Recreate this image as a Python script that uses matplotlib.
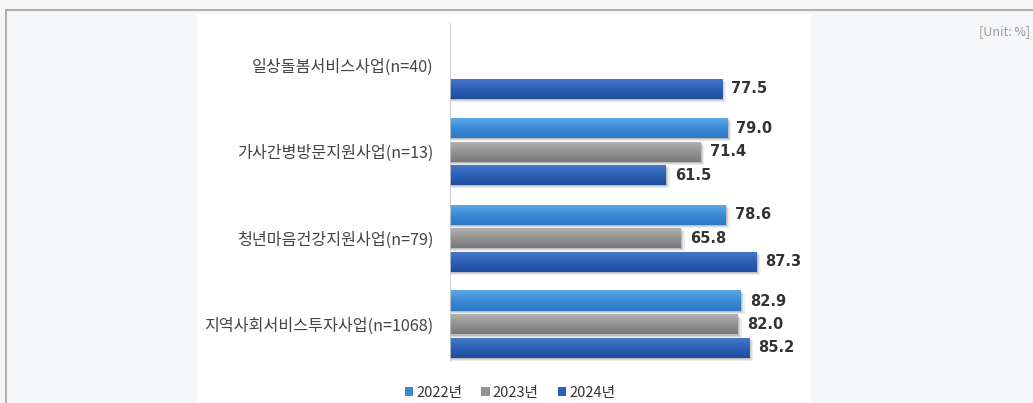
import numpy as np
import matplotlib
matplotlib.use("Agg")
import matplotlib.pyplot as plt
from matplotlib.patches import Rectangle, Patch
from matplotlib.lines import Line2D
from matplotlib.colors import LinearSegmentedColormap

plt.rcParams['font.family'] = ['Noto Sans CJK KR', 'DejaVu Sans']

# ---- data ----
categories = ["일상돌봄서비스사업(n=40)", "가사간병방문지원사업(n=13)",
              "청년마음건강지원사업(n=79)", "지역사회서비스투자사업(n=1068)"]
series_names = ["2022년", "2023년", "2024년"]
v2022 = [np.nan, 79.0, 78.6, 82.9]
v2023 = [np.nan, 71.4, 65.8, 82.0]
v2024 = [77.5, 61.5, 87.3, 85.2]
unit_label = "[Unit: %]"

W, H = 1033, 403
fig = plt.figure(figsize=(W / 100, H / 100), dpi=100, facecolor="#f5f6f8")

def fx(px):
    return px / W

def fy(py):
    return 1 - py / H

# frame lines and white panel
fig.add_artist(Line2D([fx(6), fx(1033)], [fy(10), fy(10)], color="#a8a8a8", lw=1.3))
fig.add_artist(Line2D([fx(6), fx(6)], [fy(10), fy(403)], color="#a8a8a8", lw=1.3))
fig.add_artist(Rectangle((fx(197), 0), fx(811) - fx(197), fy(14), transform=fig.transFigure,
                         facecolor="white", edgecolor="none", zorder=0))

# axes
ax_left, ax_top, ax_bottom = 450, 23, 362
xmax = 100
px_per_unit = 3.51
ax = fig.add_axes([fx(ax_left), fy(ax_bottom), (xmax * px_per_unit) / W, (ax_bottom - ax_top) / H])
ax.set_facecolor("none")
for s in ax.spines.values():
    s.set_visible(False)

spacing_px = 86.5
off = 23.5 / spacing_px
bh = 20 / spacing_px

grad = {
    0: ["#5aa9e6", "#3a8ad6", "#2c78c4"],
    1: ["#b0b0b0", "#939393", "#787878"],
    2: ["#4578c8", "#2c60b6", "#1f4d9c"],
}

all_series = [v2022, v2023, v2024]
ypos = np.arange(len(categories))
for si, vals in enumerate(all_series):
    cmap = LinearSegmentedColormap.from_list(f"g{si}", grad[si])
    for ci, v in enumerate(vals):
        if np.isnan(v):
            continue
        yc = ypos[ci] + (si - 1) * off
        # shadow
        for k, a in [(3, 0.10), (2, 0.15), (1, 0.2)]:
            ax.add_patch(Rectangle((0, yc - bh / 2 + k * 0.012), v + k * 0.35, bh,
                                   facecolor="#555555", alpha=a, edgecolor="none", zorder=1))
        g = np.linspace(0, 1, 50).reshape(-1, 1)
        ax.imshow(g, cmap=cmap, aspect="auto", extent=[0, v, yc + bh / 2, yc - bh / 2],
                  zorder=2, interpolation="bicubic")
        ax.text(v + 2.6, yc, f"{v:.1f}", va="center", ha="left", fontsize=10.5,
                fontweight="bold", color="#333333", family="DejaVu Sans", zorder=3)

ax.set_xlim(0, xmax)
ax.set_ylim(3 + 37.5 / spacing_px, -42 / spacing_px)
ax.axvline(0, color="#c8c8c8", lw=1.2, zorder=4)
ax.set_xticks([])
ax.set_yticks(ypos)
ax.set_yticklabels(categories, fontsize=11.6, color="#444444")
ax.tick_params(axis="y", length=0, pad=12)

# legend
handles = [Patch(facecolor=grad[i][1], edgecolor="none") for i in range(3)]
fig.legend(handles, series_names, loc="center", bbox_to_anchor=(fx(510), fy(393)),
           ncol=3, frameon=False, fontsize=10.5, handlelength=0.6, handleheight=0.6,
           handletextpad=0.2, columnspacing=1.3, labelcolor="#333333")

fig.text(fx(1030), fy(32), unit_label, ha="right", va="center", fontsize=9, color="#9a9a9a")

fig.savefig("out.png", dpi=100, facecolor=fig.get_facecolor())
